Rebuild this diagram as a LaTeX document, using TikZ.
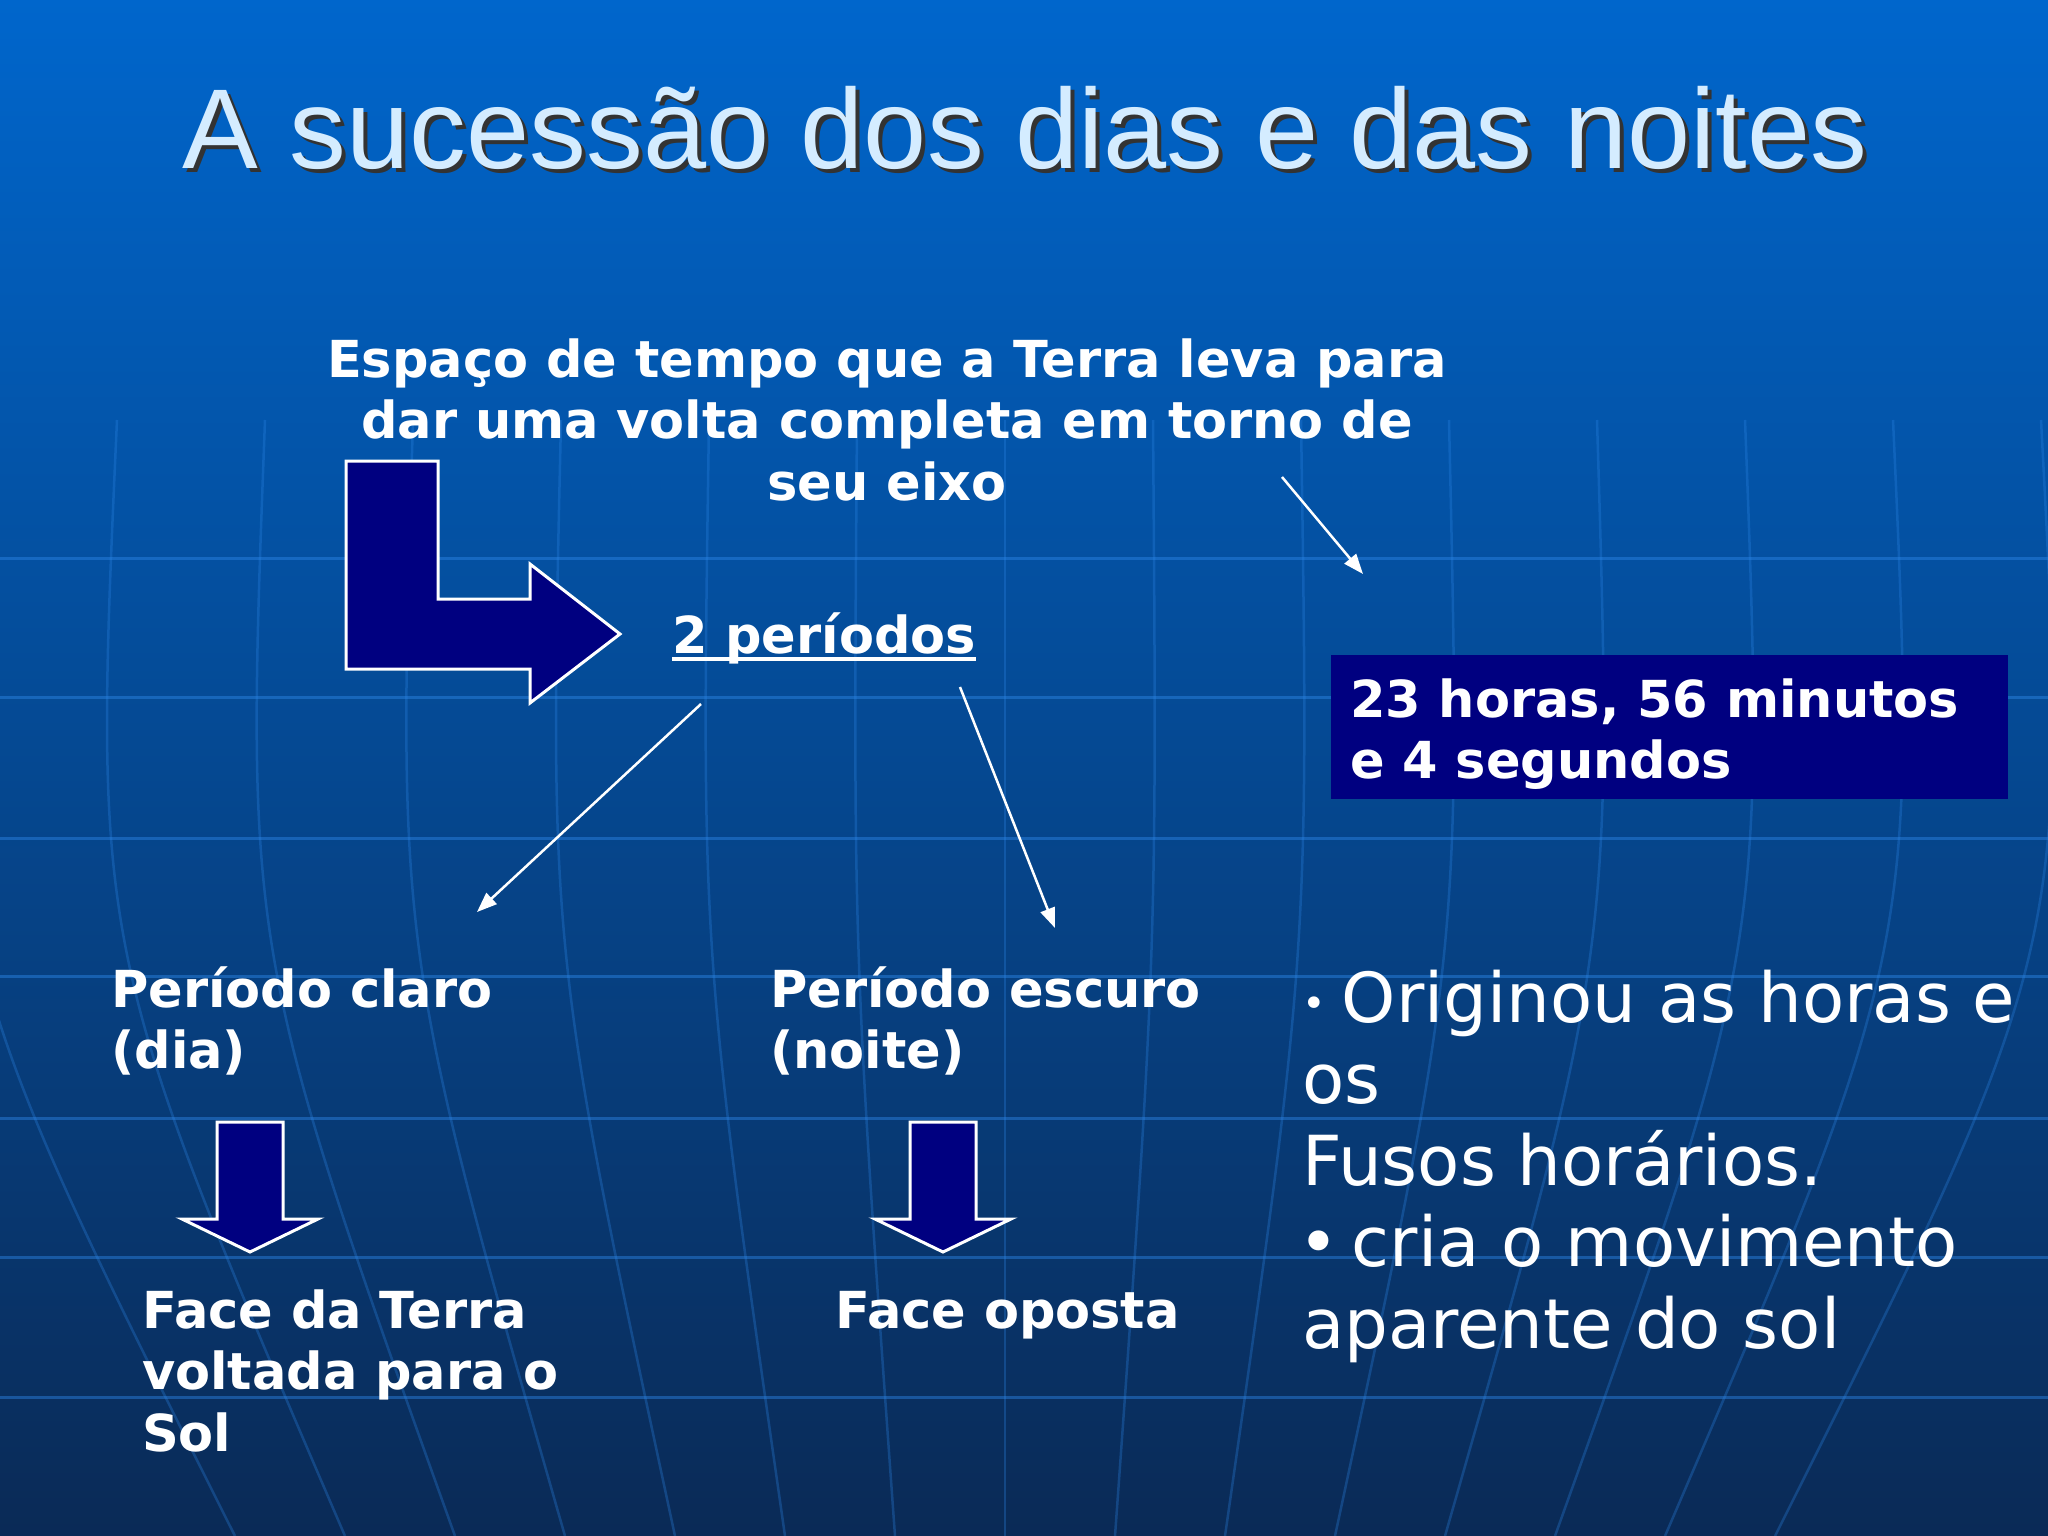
\documentclass[tikz,border=0pt]{standalone}
\usepackage{fontspec}
\setmainfont{DejaVu Sans}
\newfontfamily\titlefont{Liberation Sans}
\usetikzlibrary{arrows.meta}

\definecolor{slidetop}{RGB}{0,102,204}
\definecolor{slidemid}{RGB}{0,78,158}
\definecolor{slidebottom}{RGB}{10,42,86}
\definecolor{gridblue}{RGB}{45,135,232}
\definecolor{navyfill}{RGB}{0,0,128}
\definecolor{titlelight}{RGB}{212,236,255}

\begin{document}
\begin{tikzpicture}[x=1pt, y=-1pt,
  bodytext/.style={text=white, inner sep=0pt, align=left, font=\fontsize{51}{61.5}\selectfont\bfseries},
  thinarrow/.style={draw=white, line width=2.5pt, -{Triangle[length=20pt, width=15pt]}},
  blockarrow/.style={fill=navyfill, draw=white, line width=3pt, line join=miter},
  gridline/.style={draw=gridblue, line width=3pt, opacity=0.45},
  meridian/.style={draw=gridblue, line width=2.5pt, opacity=0.3}]
  \useasboundingbox (0,0) rectangle (2048,1536);
  % Background with globe grid
  \fill[top color=slidetop, middle color=slidemid, bottom color=slidebottom] (0,0) rectangle (2048,1536);
  \foreach \gy in {558,697,838,976,1118,1257,1397}
    \draw[gridline] (0,\gy) -- (2048,\gy);
  \foreach \k in {-7,...,7}
    \draw[meridian] ({1005+148*\k},420) .. controls ({1005+152*\k},950) .. ({1005+110*\k},1536);

  % Title with shadow
  \node[anchor=base, inner sep=0pt, text=black!80, font=\titlefont\fontsize{113.5}{130}\selectfont] (titleshadow) at (1029,172) {A sucessão dos dias e das noites};
  \node[anchor=base, inner sep=0pt, text=titlelight, font=\titlefont\fontsize{113.5}{130}\selectfont] (title) at (1025,168) {A sucessão dos dias e das noites};

  % Definition at the top (base = last line)
  \node[bodytext, align=center, anchor=base] (espaco) at (887,500) {Espaço de tempo que a Terra leva para\\dar uma volta completa em torno de\\seu eixo};

  % Bent arrow into "2 periodos"
  \draw[blockarrow] (346,461) -- (438,461) -- (438,599) -- (530,599) -- (530,564) -- (620,634)
    -- (530,703) -- (530,669) -- (346,669) -- cycle;
  \node[bodytext, anchor=base west] (periodos) at (672,653) {2 períodos};
  \draw[white, line width=3.5pt] ([yshift=-6pt]periodos.base west) -- ([yshift=-6pt]periodos.base east);

  % Duration box
  \node[fill=navyfill, anchor=north west, minimum width=677pt, minimum height=144pt, inner sep=0pt] (duracao) at (1331,655) {};
  \node[bodytext, anchor=base west] (horas) at ([xshift=19pt, yshift=-123.5pt]duracao.north west) {23 horas, 56 minutos\\e 4 segundos};

  % Thin arrows
  \coordinate (horasfrom) at (1282,477);
  \coordinate (horasto) at (1363,574);
  \coordinate (clarofrom) at (701,704);
  \coordinate (claroto) at (477,912);
  \coordinate (escurofrom) at (960,687);
  \coordinate (escuroto) at (1055,928);
  \draw[thinarrow] (horasfrom) -- (horasto);
  \draw[thinarrow] (clarofrom) -- (claroto);
  \draw[thinarrow] (escurofrom) -- (escuroto);

  % Day and night periods
  \node[bodytext, anchor=base west] (claro) at (111,1068.5) {Período claro\\(dia)};
  \node[bodytext, anchor=base west] (escuro) at (770,1068.5) {Período escuro\\(noite)};

  % Down arrows
  \foreach \cx in {250,943}
    \draw[blockarrow] ({\cx-33},1122) -- ({\cx+33},1122) -- ({\cx+33},1219) -- ({\cx+68},1219)
      -- (\cx,1252) -- ({\cx-68},1219) -- ({\cx-33},1219) -- cycle;

  \node[bodytext, anchor=base west] (faceterra) at (142,1451) {Face da Terra\\voltada para o\\Sol};
  \node[bodytext, anchor=base west] (faceoposta) at (835,1328) {Face oposta};

  % Notes on the right
  \node[text=white, inner sep=0pt, align=left, anchor=base west, font=\fontsize{69}{81.5}\selectfont] (notas) at (1302,1348)
    {\raisebox{5pt}{\fontsize{40}{40}\selectfont •}\hspace{16pt}Originou as horas e\\
     os\\
     Fusos horários.\\
     \hspace*{-4pt}•\hspace{13pt}cria o movimento\\
     aparente do sol};
\end{tikzpicture}
\end{document}
